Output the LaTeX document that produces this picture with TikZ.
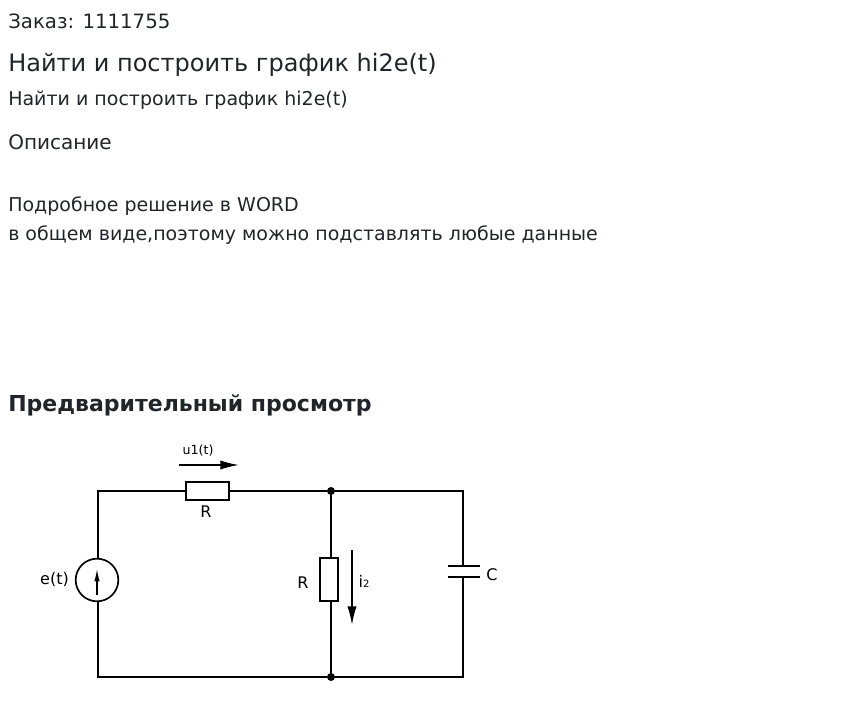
\documentclass[tikz,border=0pt]{standalone}
\usepackage{fontspec}
\setmainfont{DejaVu Sans}
\usetikzlibrary{arrows.meta}
\definecolor{txt}{HTML}{212529}
\tikzset{
   line/.style={line width=1.25pt},
   heading/.style={anchor=base west, inner sep=0pt, text=txt, font=\fontsize{#1pt}{#1pt}\selectfont},
   res/.style={draw, line width=1.25pt, fill=white, minimum width=#1, inner sep=0pt},
   dot/.style={circle, fill=black, inner sep=0pt, minimum size=6pt},
   lab/.style={inner sep=0pt, text=black, font=\fontsize{12pt}{12pt}\selectfont},
   sharp/.style={line width=1.25pt},
}
\begin{document}
\begin{tikzpicture}[x=0.75pt, y=-0.75pt]
\useasboundingbox (0,0) rectangle (847,702);
% text
\node[heading=14.8] (order) at (8,29) {Заказ: 1111755};
\node[heading=18] (title) at (8,72) {Найти и построить график hi2e(t)};
\node[heading=14.26] (sub) at (8,106) {Найти и построить график hi2e(t)};
\node[heading=15] (descr) at (8,150) {Описание};
\node[heading=14.26] (word) at (8,212) {Подробное решение в WORD};
\node[heading=14.26] (data) at (8,241) {в общем виде,поэтому можно подставлять любые данные};
\node[heading=16.5, font=\fontsize{16.5pt}{18pt}\selectfont\bfseries] (preview) at (8,412) {Предварительный просмотр};
% corners and junctions
\coordinate (tl) at (98,491);
\coordinate (bl) at (98,677);
\coordinate (tr) at (463,491);
\coordinate (br) at (463,677);
\node[dot] (top) at (331,491) {};
\node[dot] (bot) at (331,677) {};
% elements
\node[res=32pt, minimum height=13.5pt] (r1) at (207.5,491) {};
\node[res=13.5pt, minimum height=32pt] (r2) at (329,579.5) {};
\node[draw, circle, line, minimum size=32pt, inner sep=0pt] (src) at (97,580) {};
\coordinate (c1) at (463,566);
\coordinate (c2) at (463,577);
\coordinate (c1l) at (448,566);
\coordinate (c1r) at (480,566);
\coordinate (c2l) at (448,577);
\coordinate (c2r) at (480,577);
% wires
\draw[line] (src.north -| tl) -- (tl) -- (r1.west);
\draw[line] (r1.east) -- (top) -- (tr) -- (c1);
\draw[line] (c2) -- (br) -- (bot) -- (bl) -- (src.south -| bl);
\draw[line] (top) -- (r2.north -| top);
\draw[line] (r2.south -| top) -- (bot);
\draw[line] (c1l) -- (c1r);
\draw[line] (c2l) -- (c2r);
% arrows
\coordinate (ea) at (97,595);
\coordinate (eb) at (97,568);
\draw[sharp, -{Latex[length=10pt, width=4pt]}] (ea) -- (eb);
\coordinate (ua) at (179,465);
\coordinate (ub) at (239,465);
\draw[sharp, -{Latex[length=14pt, width=7pt]}] (ua) -- (ub);
\coordinate (ia) at (352,550);
\coordinate (ib) at (352,625);
\draw[sharp, -{Latex[length=14pt, width=7pt]}] (ia) -- (ib);
% labels
\node[lab] (e) at (54.5,579.5) {e(t)};
\node[lab, font=\fontsize{9.5pt}{10pt}\selectfont] (u) at (198,451) {u1(t)};
\node[lab] (rt) at (206,512) {R};
\node[lab] (rb) at (303,583) {R};
\node[lab] (i) at (364,581) {i{\fontsize{7.5pt}{8pt}\selectfont 2}};
\node[lab] (c) at (492,575) {C};
\end{tikzpicture}
\end{document}
